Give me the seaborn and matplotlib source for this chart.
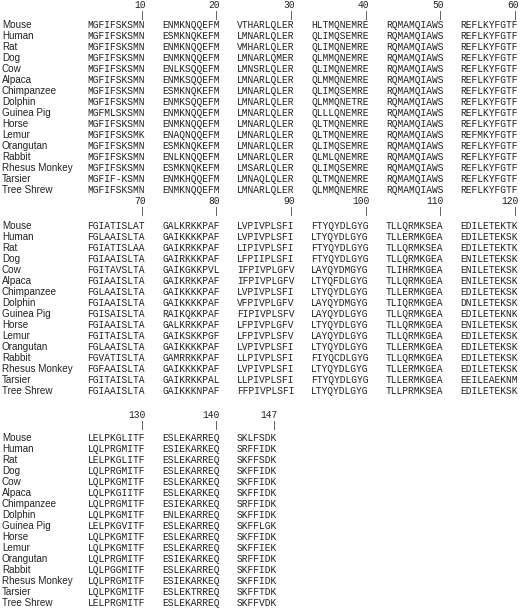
import matplotlib
matplotlib.use("Agg")
import matplotlib.pyplot as plt
import seaborn as sns

# species names, in the order of the alignment
species = ["Mouse", "Human", "Rat", "Dog", "Cow", "Alpaca", "Chimpanzee",
           "Dolphin", "Guinea Pig", "Horse", "Lemur", "Orangutan", "Rabbit",
           "Rhesus Monkey", "Tarsier", "Tree Shrew"]

# aligned sequences, one line of the figure per list (blocks of 10 residues)
seq_line1 = [
    "MGFIFSKSMN ENMKNQQEFM VTHARLQLER HLTMQNEMRE RQMAMQIAWS REFLKYFGTF",
    "MGFIFSKSMN ESMKNQKEFM LMNARLQLER QLIMQSEMRE RQMAMQIAWS REFLKYFGTF",
    "MGFIFSKSMN ENMKNQQEFM VMHARLQLER QLIMQNEMRE RQMAMQIAWS REFLKYFGTF",
    "MGFIFSKSMN ENMKNQQEFM LMNARLQMER QLMMQNEMRE RQMAMQIAWS REFLKYFGTF",
    "MGFIFSKSMN ENLKSQQEFM LMNSRLQLER QLIMQNEMRE RQMAMQIAWS REFLKYFGTF",
    "MGFIFSKSMN ENMKSQQEFM LMNARLQLER QLMMQNEMRE RQMAMQIAWS REFLKYFGTF",
    "MGFIFSKSMN ESMKNQKEFM LMNARLQLER QLIMQSEMRE RQMAMQIAWS REFLKYFGTF",
    "MGFIFSKSMN ENMKSQQEFM LMNARLQLER QLMMQNETRE RQMAMQIAWS REFLKYFGTF",
    "MGFMLSKSMN ENMKNQQEFM LMNARLQLER QLLLQNEMRE RQMAMQIAWS REFLKYFGTF",
    "MGFIFSKSMN ENMKNQQEFM LMNARLQLER QLTMQNEMRE RQMAMQIAWS REFLKYFGTF",
    "MGFIFSKSMK ENAQNQQEFM LMNARLQLER QLTMQNEMRE RQMAMQIAWS REFMKYFGTF",
    "MGFIFSKSMN ESMKNQKEFM LMNARLQLER QLIMQSEMRE RQMAMQIAWS REFLKYFGTF",
    "MGFIFSKSMN ENLKNQQEFM LMNARLQLER QLMLQNEMRE RQMAMQIAWS REFLKYFGTF",
    "MGFIFSKSMN ESMKNQKEFM LMSARLQLER QLIMQSEMRE RQMAMQIAWS REFLKYFGTF",
    "MGFIF-KSMN ENMKHQQEFM LMNAQLQLER QLTMQNEMRE RQMAMQIAWS REFLKYFGTF",
    "MGFIFSKSMN ENMKNQQEFM LMNARLQLER QLMMQNEMRE RQMAMQIAWS REFLKYFGTF",
]
seq_line2 = [
    "FGIATISLAT GALKRKKPAF LVPIVPLSFI FTYQYDLGYG TLLQRMKSEA EDILETEKTK",
    "FGLAAISLTA GAIKKKKPAF LVPIVPLSFI LTYQYDLGYG TLLERMKGEA EDILETEKSK",
    "FGIATISLAA GAIKRKKPAF LIPIVPLSFI FTYQYDLGYG TLLQRMKSEA EDILETEKTK",
    "FGIAAISLTA GAIRKKKPAF LFPIIPLSFI FTYQYDLGYG TLLQRMKGEA ENILETEKSK",
    "FGITAVSLTA GAIKGKKPVL IFPIVPLGFV LAYQYDMGYG TLIHRMKGEA ENILETEKSK",
    "FGIAAISLTA GAIKRKKPAF IFPIVPLGFV LTYQFDLGYG TLLQRMKGEA ENILETEKSK",
    "FGLAAISLTA GAIKKKKPAF LVPIVPLSFI LTYQYDLGYG TLLERMKGEA EDILETEKSK",
    "FGIAAISLTA GAIKKKKPAF VFPIVPLGFV LAYQYDMGYG TLIQRMKGEA DNILETEKSK",
    "FGISAISLTA RAIKQKKPAF FIPIVPLSFV LAYQYDLGYG TLLQRMKGEA EDILETEKNK",
    "FGIAAISLTA GALKRKKPAF LFPIVPLGFV LTYQYDLGYG TLLQRMKGEA ENILETEKSK",
    "FGITAISLTA GAIKSKKPGF LFPIVPLSFV LAYQYDLGYG TLLQRMKGEA EDILETEKSK",
    "FGLAAISLTA GAIKKKKPAF LVPIVPLSFI LTYQYDLGYG TLLERMKGEA EDILETEKSK",
    "FGVATISLTA GAMRRKKPAF LLPIVPLSFI FIYQCDLGYG TLLQRMKGEA EDILETEKSK",
    "FGFAAISLTA GAIKKKKPAF LVPIVPLSFI LTYQYDLGYG TLLERMKGEA EDILETEKSK",
    "FGITAISLTA GAIKRKKPAL LLPIVPLSFI FTYQYDLGYG TLLERMKGEA EEILEAEKNM",
    "FGIAAISLTA GAIKKKNPAF FFPIVPLSFI LTYQYDLGYG TLLPRMKSEA EDILETEKSK",
]
seq_line3 = [
    "LELPKGLITF ESLEKARREQ SKLFSDK",
    "LQLPRGMITF ESIEKARKEQ SRFFIDK",
    "LELPKGLITF ESLEKARREQ SKFFSDK",
    "LQLPRGMITF ESLEKARREQ SKFFIDK",
    "LQLPKGMITF ESLEKARKEQ SKFFIDK",
    "LQLPKGIITF ESLEKARKEQ SKFFIDK",
    "LQLPRGMITF ESIEKARKEQ SRFFIDK",
    "LQLPKGMITF ENLEKARREQ SKFFIDK",
    "LELPKGVITF ESLEKARREQ SKFFLGK",
    "LQLPKGMITF ESLEKARREQ SKFFIDK",
    "LQLPKGMITF ESLEKARREQ SKFFIEK",
    "LQLPRGMITF ESIEKARKEQ SRFFIDK",
    "LQLPGGMITF ESLEKARREQ SKFFIDK",
    "LQLPRGMITF ESIEKARKEQ SKFFIDK",
    "LQLPKGMITF ESLEKTRREQ SKFFTDK",
    "LELPRGMITF ESLEKARREQ SKFFVDK",
]

# position numbers printed above each line
ticks_line1 = [10, 20, 30, 40, 50, 60]
ticks_line2 = [70, 80, 90, 100, 110, 120]
ticks_line3 = [130, 140, 147]

lines = [(seq_line1, ticks_line1, 0), (seq_line2, ticks_line2, 60),
         (seq_line3, ticks_line3, 120)]

sns.set_style("white")

fig = plt.figure(figsize=(5.2, 6.1), dpi=100)
ax = fig.add_axes([0, 0, 1, 1])
ax.set_xlim(0, 520)
ax.set_ylim(610, 0)
ax.axis("off")

x0 = 87.5          # left edge of the first residue
cw = 5.74          # width of one residue column
block_step = 13    # 10 residues + gap, in columns
row_h = 11.0
name_x = 2
num_y = [5, 201, 415]     # y of the position numbers per line
first_row = [25, 226, 438]

mono = dict(family="Liberation Mono", fontsize=6.9, color="#222222")
sans = dict(family="Liberation Sans", fontsize=7.1, color="#222222")

for li, (seqs, ticks, offset) in enumerate(lines):
    ny = num_y[li]
    for t in ticks:
        p = t - offset - 1
        b, j = divmod(p, 10)
        xr = x0 + (b * block_step + j + 1) * cw
        ax.text(xr + 0.5, ny, str(t), ha="right", va="center", **mono)
        ax.text(xr - cw / 2, ny + 10, "|", ha="center", va="center",
                family="DejaVu Sans", fontsize=6.5, color="#333333")
    for r, (name, s) in enumerate(zip(species, seqs)):
        y = first_row[li] + r * row_h
        ax.text(name_x, y, name, ha="left", va="center", **sans)
        for b, block in enumerate(s.split(" ")):
            ax.text(x0 + b * block_step * cw, y, block, ha="left",
                    va="center", **mono)

fig.savefig("out.png", dpi=100)
